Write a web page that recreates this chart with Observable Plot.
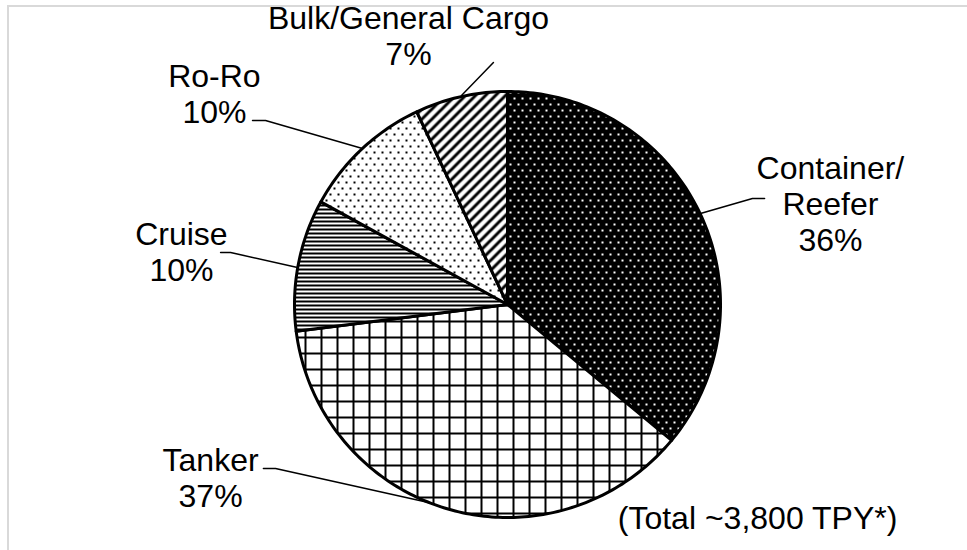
<!DOCTYPE html>
<html><head><meta charset="utf-8">
<script src="https://cdn.jsdelivr.net/npm/d3@7"></script>
<script src="https://cdn.jsdelivr.net/npm/@observablehq/plot@0.6"></script>
<style>
html,body{margin:0;padding:0;background:#fff;}
#wrap{position:relative;width:967px;height:550px;overflow:hidden;}
#frame{position:absolute;left:7px;top:5px;width:1000px;height:600px;border-top:2px solid #d9d9d9;border-left:2px solid #d9d9d9;}
#chart{position:absolute;left:0;top:0;}
</style></head><body>
<div id="wrap"><div id="frame"></div><div id="chart"></div></div>
<script>
// ---- data ----
const categories = ["Container/Reefer", "Tanker", "Cruise", "Ro-Ro", "Bulk/General Cargo"];
const labelNames = ["Container/\nReefer", "Tanker", "Cruise", "Ro-Ro", "Bulk/General Cargo"];
const shares = [36, 37, 10, 10, 7];
const patternIds = ["pat-container", "pat-tanker", "pat-cruise", "pat-roro", "pat-bulk"];
const note = "(Total ~3,800 TPY*)";

// ---- layout (unit-circle coordinates, radius = 1) ----
const labelPos = [[1.516, 0.475], [-1.394, -0.811], [-1.531, 0.248], [-1.376, 0.992], [-0.465, 1.264]];
const leaderPaths = [
  [[0.906, 0.427], [1.150, 0.498], [1.207, 0.498]],
  [[-0.371, -0.930], [-1.089, -0.770], [-1.146, -0.770]],
  [[-0.986, 0.174], [-1.300, 0.244], [-1.347, 0.244]],
  [[-0.681, 0.732], [-1.136, 0.864], [-1.197, 0.864]],
  [[-0.216, 0.981], [-0.066, 1.136]]
];
const notePos = [1.174, -1.004];

// ---- build ----
const arcs = d3.pie().sort(null).startAngle(0).endAngle(2 * Math.PI)(shares);
const slicePts = [];
arcs.forEach((p, i) => {
  slicePts.push({k: i, x: 0, y: 0});
  const n = Math.max(2, Math.ceil((p.endAngle - p.startAngle) / (Math.PI / 180)));
  for (let j = 0; j <= n; j++) {
    const a = p.startAngle + (p.endAngle - p.startAngle) * j / n;
    slicePts.push({k: i, x: Math.sin(a), y: Math.cos(a)});
  }
});
const labels = categories.map((c, i) => ({
  x: labelPos[i][0], y: labelPos[i][1], text: labelNames[i] + "\n" + shares[i] + "%"
}));
const leaderPts = leaderPaths.flatMap((path, k) => path.map(([x, y]) => ({k, x, y})));

const chart = Plot.plot({
  width: 967, height: 550, margin: 0,
  style: {fontFamily: "'Liberation Sans', Arial, sans-serif", background: "transparent", color: "#000"},
  x: {domain: [-1, 1], range: [294, 720], axis: null},
  y: {domain: [-1, 1], range: [517, 91], axis: null},
  color: {type: "identity"},
  marks: [
    Plot.line(slicePts, {x: "x", y: "y", z: "k", fill: d => `url(#${patternIds[d.k]})`,
      stroke: "#000", strokeWidth: 3, strokeLinejoin: "round", curve: "linear-closed"}),
    Plot.line(leaderPts, {x: "x", y: "y", z: "k", stroke: "#000", strokeWidth: 1.5}),
    Plot.text(labels, {x: "x", y: "y", text: "text", fontSize: 32, lineHeight: 1.125, fill: "#000", textAnchor: "middle"}),
    Plot.text([note], {x: () => notePos[0], y: () => notePos[1], text: d => d, fontSize: 32, fill: "#000", textAnchor: "middle"})
  ]
});

// pattern definitions
const defs = d3.select(chart).insert("defs", ":first-child");
function pat(id, w, h) {
  return defs.append("pattern").attr("id", id).attr("patternUnits", "userSpaceOnUse").attr("width", w).attr("height", h);
}
let p = pat("pat-container", 8, 12);
p.append("rect").attr("width", 8).attr("height", 12).attr("fill", "#000");
p.append("rect").attr("x", 1).attr("y", 1).attr("width", 2).attr("height", 2).attr("fill", "#fff");
p.append("rect").attr("x", 5).attr("y", 7).attr("width", 2).attr("height", 2).attr("fill", "#fff");
p = pat("pat-tanker", 16, 16);
p.append("rect").attr("width", 16).attr("height", 16).attr("fill", "#fff");
p.append("rect").attr("width", 16).attr("height", 2).attr("fill", "#000");
p.append("rect").attr("width", 2).attr("height", 16).attr("fill", "#000");
p = pat("pat-cruise", 8, 4);
p.append("rect").attr("width", 8).attr("height", 4).attr("fill", "#fff");
p.append("rect").attr("width", 8).attr("height", 2).attr("fill", "#000");
p = pat("pat-roro", 8, 12);
p.append("rect").attr("width", 8).attr("height", 12).attr("fill", "#fff");
p.append("rect").attr("x", 1).attr("y", 1).attr("width", 2).attr("height", 2).attr("fill", "#000");
p.append("rect").attr("x", 5).attr("y", 7).attr("width", 2).attr("height", 2).attr("fill", "#000");
p = pat("pat-bulk", 10, 10);
p.append("rect").attr("width", 10).attr("height", 10).attr("fill", "#fff");
p.append("path").attr("d", "M0,10L10,0M-2.5,2.5L2.5,-2.5M7.5,12.5L12.5,7.5").attr("stroke", "#000").attr("stroke-width", 3);

document.getElementById("chart").appendChild(chart);
</script>
</body></html>
